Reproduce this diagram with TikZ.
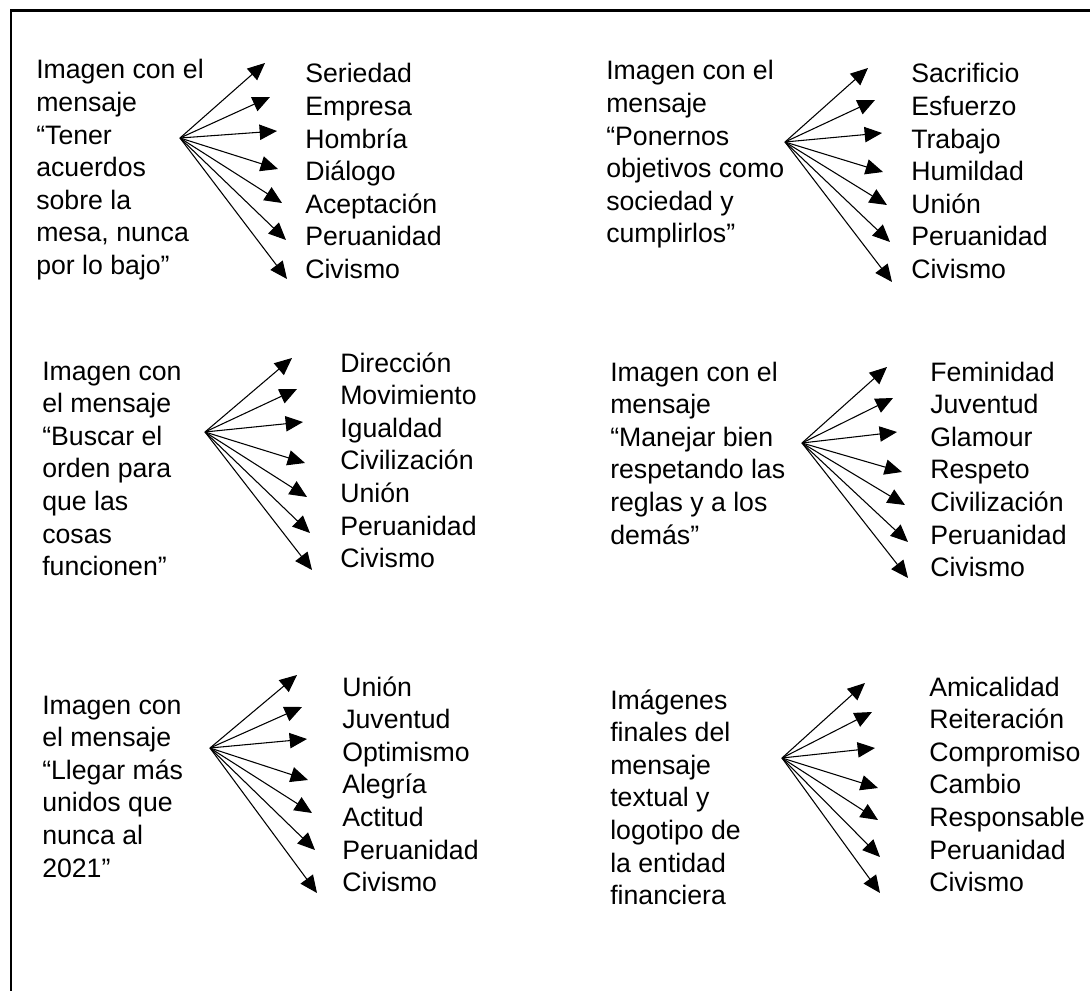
\documentclass[tikz,border=0pt]{standalone}
\usepackage{fontspec}
\setmainfont{Liberation Sans}
\usetikzlibrary{arrows.meta}
\begin{document}
\begin{tikzpicture}[x=0.75pt,y=-0.75pt,
  txt/.style={anchor=base west,inner sep=0pt,align=left,font=\fontsize{20}{24.45}\selectfont},
  arr/.style={line width=0.8pt,-{Triangle[length=13pt,width=11.5pt]}},
  frame/.style={line width=2pt}]
\useasboundingbox (0,0) rectangle (1090,991);
\fill[white] (0,0) rectangle (1090,991);
\draw[frame] (11,1000) -- (11,10.5) -- (1100,10.5);
% note: anchor base of a multi-line node = baseline of its last line (pitch 32.6px)

% Group 1
\node[txt] (g1t) at (36,79+6*32.6) {Imagen con el\\mensaje\\“Tener\\acuerdos\\sobre la\\mesa, nunca\\por lo bajo”};
\node[txt] (g1l) at (305,83+6*32.6) {Seriedad\\Empresa\\Hombría\\Diálogo\\Aceptación\\Peruanidad\\Civismo};
\coordinate (g1o) at (180,138);
\foreach \i/\x/\y in {1/265/63,2/270/97,3/277/131,4/278/169,5/282/203,6/286/240,7/287/279}{
  \coordinate (g1p\i) at (\x,\y);
  \draw[arr] (g1o) -- (g1p\i);
}

% Group 2
\node[txt] (g2t) at (606,80+5*32.6) {Imagen con el\\mensaje\\“Ponernos\\objetivos como\\sociedad y\\cumplirlos”};
\node[txt] (g2l) at (911,83+6*32.6) {Sacrificio\\Esfuerzo\\Trabajo\\Humildad\\Unión\\Peruanidad\\Civismo};
\coordinate (g2o) at (785,142);
\foreach \i/\x/\y in {1/868/68,2/875/100,3/882/133,4/883/172,5/887/205,6/890/242,7/892/282}{
  \coordinate (g2p\i) at (\x,\y);
  \draw[arr] (g2o) -- (g2p\i);
}

% Group 3
\node[txt] (g3t) at (42,380+6*32.6) {Imagen con\\el mensaje\\“Buscar el\\orden para\\que las\\cosas\\funcionen”};
\node[txt] (g3l) at (340,372+6*32.6) {Dirección\\Movimiento\\Igualdad\\Civilización\\Unión\\Peruanidad\\Civismo};
\coordinate (g3o) at (205,432);
\foreach \i/\x/\y in {1/292/358,2/297/389,3/303/422,4/305/463,5/307/497,6/310/533,7/312/570}{
  \coordinate (g3p\i) at (\x,\y);
  \draw[arr] (g3o) -- (g3p\i);
}

% Group 4
\node[txt] (g4t) at (610,381+5*32.6) {Imagen con el\\mensaje\\“Manejar bien\\respetando las\\reglas y a los\\demás”};
\node[txt] (g4l) at (930,381+6*32.6) {Feminidad\\Juventud\\Glamour\\Respeto\\Civilización\\Peruanidad\\Civismo};
\coordinate (g4o) at (802,443);
\foreach \i/\x/\y in {1/887/367,2/893/398,3/897/432,4/902/472,5/905/505,6/908/542,7/908/578}{
  \coordinate (g4p\i) at (\x,\y);
  \draw[arr] (g4o) -- (g4p\i);
}

% Group 5
\node[txt] (g5t) at (42,714+5*32.6) {Imagen con\\el mensaje\\“Llegar más\\unidos que\\nunca al\\2021”};
\node[txt] (g5l) at (342,696+6*32.6) {Unión\\Juventud\\Optimismo\\Alegría\\Actitud\\Peruanidad\\Civismo};
\coordinate (g5o) at (210,748);
\foreach \i/\x/\y in {1/297/675,2/302/707,3/307/739,4/308/780,5/312/813,6/315/850,7/317/893}{
  \coordinate (g5p\i) at (\x,\y);
  \draw[arr] (g5o) -- (g5p\i);
}

% Group 6
\node[txt] (g6t) at (610,709+6*32.6) {Imágenes\\finales del\\mensaje\\textual y\\logotipo de\\la entidad\\financiera};
\node[txt] (g6l) at (929,696+6*32.6) {Amicalidad\\Reiteración\\Compromiso\\Cambio\\Responsable\\Peruanidad\\Civismo};
\coordinate (g6o) at (782,758);
\foreach \i/\x/\y in {1/865/683,2/872/712,3/875/748,4/878/788,5/878/820,6/880/857,7/880/893}{
  \coordinate (g6p\i) at (\x,\y);
  \draw[arr] (g6o) -- (g6p\i);
}
\end{tikzpicture}
\end{document}
